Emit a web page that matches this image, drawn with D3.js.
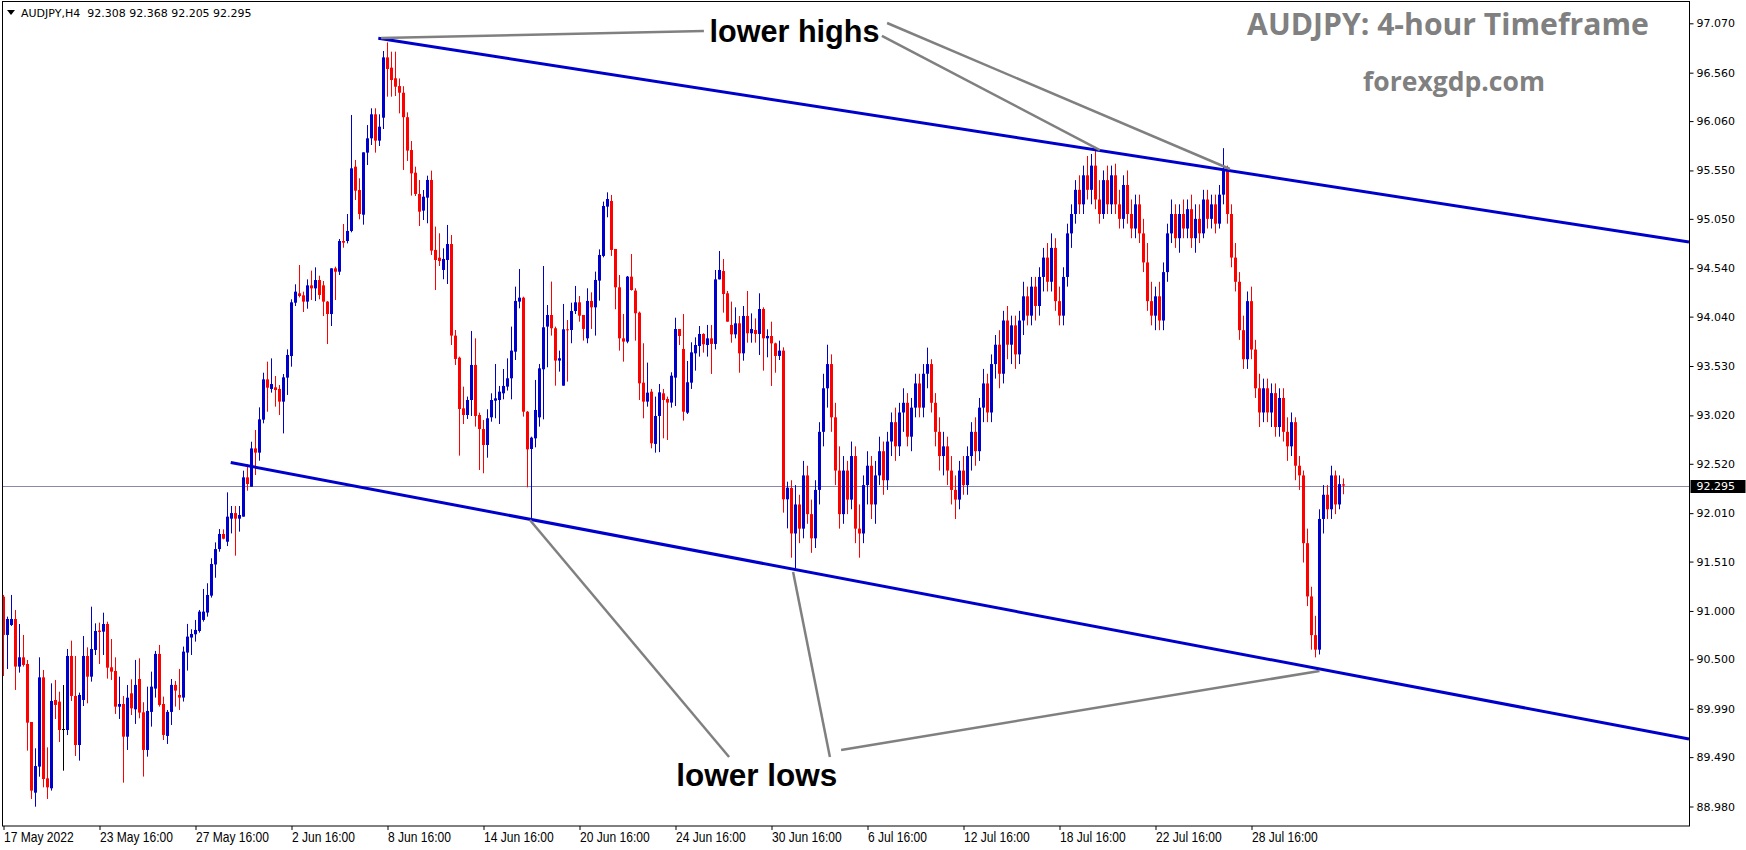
<!DOCTYPE html>
<html><head><meta charset="utf-8">
<script src="https://cdn.jsdelivr.net/npm/d3@7/dist/d3.min.js"></script>
<style>body{margin:0;background:#fff;}svg{display:block;}</style>
</head><body>
<svg id="chart" width="1746" height="850"></svg>
<script>
// ---------- data ----------
const symbolHeader = "AUDJPY,H4";
const headerValues = ["92.308", "92.368", "92.205", "92.295"];
const chartTitle = "AUDJPY: 4-hour Timeframe";
const chartSource = "forexgdp.com";
const priceTicks = [97.070, 96.560, 96.060, 95.550, 95.050, 94.540, 94.040, 93.530, 93.020,
  92.520, 92.010, 91.510, 91.000, 90.500, 89.990, 89.490, 88.980];
const timeLabels = ["17 May 2022", "23 May 16:00", "27 May 16:00", "2 Jun 16:00", "8 Jun 16:00",
  "14 Jun 16:00", "20 Jun 16:00", "24 Jun 16:00", "30 Jun 16:00", "6 Jul 16:00",
  "12 Jul 16:00", "18 Jul 16:00", "22 Jul 16:00", "28 Jul 16:00"];
const timeLabelBars = [0, 24, 48, 72, 96, 120, 144, 168, 192, 216, 240, 264, 288, 312];
const currentPrice = 92.295;
// H4 candles: [open, high, low, close]
const candles = [
[91.147,91.165,90.328,90.752],[90.752,90.941,90.400,90.917],[90.855,91.165,90.845,90.917],[90.917,91.010,90.184,90.425],
[90.425,90.865,90.363,90.521],[90.521,90.752,90.425,90.442],[90.452,90.493,89.557,89.846],[89.853,89.853,89.058,89.144],
[89.123,89.581,88.978,89.398],[89.392,90.521,89.288,90.314],[90.314,90.390,89.178,89.264],[89.271,89.591,89.058,89.178],
[89.168,90.252,89.144,90.070],[90.080,90.287,89.884,90.029],[90.063,90.166,89.646,89.770],[89.777,90.235,89.350,89.777],
[89.770,90.607,89.718,90.535],[90.535,90.693,90.070,90.122],[90.122,90.535,89.502,89.615],[89.615,90.156,89.454,90.132],
[90.080,90.741,90.018,90.535],[90.535,90.624,90.046,90.321],[90.321,91.044,90.270,90.607],[90.597,90.872,90.545,90.793],
[90.797,90.879,90.452,90.783],[90.786,90.982,90.545,90.865],[90.865,90.889,90.301,90.414],[90.418,90.710,90.287,90.373],
[90.380,90.521,89.936,90.011],[90.011,90.321,89.884,90.039],[90.039,90.122,89.226,89.701],[89.701,90.235,89.564,90.104],
[90.149,90.294,89.925,89.994],[89.984,90.494,89.833,90.236],[90.297,90.511,89.891,89.950],[89.953,90.057,89.289,89.564],
[89.564,90.218,89.495,89.967],[89.957,90.373,89.805,90.218],[90.198,90.587,90.105,90.556],[90.556,90.649,90.012,90.029],
[90.039,90.115,89.667,89.719],[89.709,89.977,89.626,89.957],[89.957,90.297,89.822,90.236],[90.236,90.277,90.012,90.177],
[90.132,90.401,89.977,90.105],[90.105,90.632,90.064,90.580],[90.570,90.866,90.384,90.735],[90.725,90.811,90.545,90.762],
[90.759,90.907,90.683,90.804],[90.793,91.010,90.776,90.993],[90.907,91.227,90.890,90.993],[90.983,91.286,90.941,91.165],
[91.158,91.544,91.138,91.485],[91.480,91.708,91.343,91.639],[91.639,91.846,91.612,91.795],[91.795,91.843,91.740,91.746],
[91.715,92.225,91.670,91.974],[91.953,92.084,91.801,92.011],[92.011,92.084,91.571,91.953],[91.953,92.084,91.819,91.991],
[91.974,92.449,91.974,92.380],[92.380,92.514,92.242,92.311],[92.283,92.748,92.283,92.679],[92.679,92.869,92.404,92.635],
[92.635,93.103,92.552,92.979],[92.976,93.461,92.938,93.392],[93.392,93.575,93.058,93.306],[93.293,93.609,93.255,93.344],
[93.310,93.427,93.110,93.282],[93.293,93.334,93.024,93.162],[93.162,93.447,92.834,93.413],[93.410,93.702,93.231,93.644],
[93.633,94.219,93.523,94.188],[94.184,94.374,94.150,94.298],[94.281,94.573,94.239,94.253],[94.260,94.298,94.088,94.195],
[94.195,94.425,94.122,94.363],[94.363,94.515,94.212,94.332],[94.332,94.549,94.201,94.418],[94.418,94.463,94.219,94.264],
[94.363,94.408,94.046,94.195],[94.195,94.201,93.757,94.067],[94.067,94.539,93.943,94.539],[94.539,94.556,94.212,94.504],
[94.504,94.842,94.470,94.821],[94.821,94.997,94.752,94.804],[94.821,95.100,94.797,94.925],[94.925,96.123,94.911,95.572],
[95.589,95.658,95.245,95.341],[95.348,95.469,95.045,95.100],[95.093,95.737,94.990,95.737],[95.734,96.019,95.606,95.882],
[95.882,96.192,95.813,96.130],[96.130,96.192,95.734,95.858],[95.858,96.130,95.803,96.002],[96.095,96.784,95.978,96.718],
[96.718,96.873,96.312,96.598],[96.612,96.777,96.312,96.484],[96.502,96.777,96.319,96.415],[96.422,96.500,96.140,96.353],
[96.353,96.420,95.555,96.100],[96.100,96.150,95.648,95.755],[95.761,95.854,95.290,95.520],[95.527,95.589,95.286,95.307],
[95.307,95.451,94.976,95.124],[95.135,95.348,95.038,95.279],[95.269,95.496,95.004,95.452],[95.452,95.548,94.677,94.722],
[94.729,94.970,94.315,94.625],[94.649,94.901,94.563,94.615],[94.522,94.746,94.426,94.636],[94.625,94.987,94.377,94.790],
[94.790,94.883,93.747,93.844],[93.844,93.902,93.541,93.603],[93.616,93.627,92.604,93.086],[93.093,93.317,92.931,93.024],
[93.024,93.214,92.983,93.179],[93.179,93.892,93.014,93.541],[93.541,93.816,92.904,93.014],[93.024,93.048,92.456,92.879],
[92.879,92.972,92.422,92.714],[92.714,93.083,92.583,92.990],[93.000,93.248,92.955,93.179],[93.172,93.551,92.990,93.196],
[93.179,93.324,92.931,93.265],[93.248,93.499,93.186,93.324],[93.317,93.609,93.276,93.403],[93.403,93.937,93.186,93.689],
[93.678,94.350,93.592,94.202],[94.195,94.532,94.126,94.236],[94.236,94.246,93.007,93.058],[93.058,93.065,92.277,92.669],
[92.673,92.800,91.945,92.790],[92.783,93.386,92.690,93.076],[93.000,93.551,92.904,93.506],[93.496,94.563,92.979,93.930],
[93.937,94.160,93.517,94.057],[94.057,94.402,93.844,93.920],[93.920,93.937,93.327,93.586],[93.586,93.689,93.472,93.610],
[93.327,94.171,93.327,93.909],[93.909,94.005,93.369,93.902],[93.902,94.184,93.765,94.098],[94.098,94.357,94.067,94.188],
[94.188,94.253,93.988,94.050],[94.057,94.057,93.792,93.913],[93.816,94.333,93.765,94.202],[94.202,94.291,93.913,94.136],
[94.136,94.505,93.844,94.419],[94.412,94.735,94.205,94.677],[94.667,95.228,94.653,95.183],[95.176,95.324,95.066,95.255],
[95.235,95.297,94.667,94.729],[94.739,94.739,94.116,94.343],[94.343,94.470,93.689,93.816],[93.816,94.068,93.575,93.782],
[93.782,94.460,93.765,94.453],[94.453,94.687,94.309,94.315],[94.309,94.333,93.792,94.075],[94.081,94.092,93.179,93.351],
[93.358,93.765,92.990,93.162],[93.162,93.565,93.110,93.255],[93.265,93.293,92.680,92.732],[92.725,93.214,92.635,93.014],
[93.014,93.344,92.640,93.258],[93.248,93.293,92.783,93.179],[93.189,93.214,92.766,93.152],[93.152,93.465,93.100,93.430],
[93.410,94.029,93.117,93.912],[93.912,93.912,93.747,93.840],[93.706,94.067,92.966,93.058],[93.048,93.582,93.034,93.362],
[93.358,93.775,93.293,93.671],[93.661,93.826,93.482,93.747],[93.737,93.943,93.627,93.861],[93.861,93.868,93.668,93.754],
[93.747,93.954,93.627,93.816],[93.816,93.954,93.448,93.758],[93.758,94.522,93.702,94.425],[94.425,94.718,94.425,94.522],
[94.511,94.635,94.081,94.274],[94.281,94.305,93.988,93.988],[93.954,94.195,93.771,93.857],[93.857,94.136,93.816,93.971],
[93.971,94.047,93.461,93.661],[93.661,94.150,93.585,94.047],[94.047,94.305,93.771,93.868],[93.868,94.074,93.771,93.912],
[93.902,94.022,93.771,93.861],[93.861,94.281,93.644,94.119],[94.119,94.136,93.482,93.816],[93.816,93.909,93.620,93.840],
[93.840,93.988,93.324,93.764],[93.764,93.771,93.461,93.634],[93.634,93.792,93.592,93.689],[93.689,93.723,92.015,92.153],
[92.153,92.335,91.853,92.273],[92.270,92.350,91.550,91.800],[91.800,92.300,91.440,92.100],[92.100,92.200,91.700,91.850],
[91.850,92.550,91.750,92.400],[92.400,92.500,91.900,92.000],[92.000,92.150,91.600,91.750],[91.750,92.350,91.650,92.250],
[92.250,92.950,92.100,92.850],[92.850,93.450,92.700,93.300],[93.300,93.750,93.100,93.550],[93.550,93.650,92.850,93.000],
[93.000,93.150,92.300,92.450],[92.450,92.700,91.850,92.000],[92.000,92.600,91.900,92.450],[92.450,92.550,92.000,92.150],
[92.150,92.750,92.050,92.600],[92.600,92.700,91.700,91.850],[91.850,92.100,91.550,91.800],[91.800,92.400,91.700,92.300],
[92.300,92.650,92.100,92.500],[92.500,92.600,91.950,92.100],[92.100,92.550,91.900,92.400],[92.400,92.800,92.300,92.650],
[92.650,92.750,92.200,92.350],[92.350,92.850,92.250,92.750],[92.750,93.050,92.600,92.950],[92.950,93.100,92.550,92.700],
[92.700,93.150,92.600,93.050],[93.050,93.300,92.850,93.150],[93.150,93.250,92.700,92.800],[92.800,93.200,92.650,93.100],
[93.100,93.450,93.000,93.350],[93.350,93.450,93.000,93.100],[93.100,93.550,93.000,93.450],[93.450,93.720,93.300,93.550],
[93.550,93.600,93.050,93.150],[93.150,93.250,92.700,92.850],[92.850,93.000,92.450,92.600],[92.600,92.850,92.400,92.700],
[92.700,92.800,92.300,92.450],[92.450,92.600,92.100,92.250],[92.250,92.400,91.950,92.150],[92.150,92.550,92.050,92.450],
[92.450,92.600,92.200,92.300],[92.300,92.700,92.200,92.600],[92.600,92.950,92.450,92.850],[92.850,93.000,92.500,92.650],
[92.650,93.200,92.550,93.100],[93.100,93.500,92.950,93.350],[93.350,93.450,92.950,93.050],[93.050,93.650,92.950,93.550],
[93.550,93.850,93.400,93.750],[93.750,93.900,93.300,93.450],[93.450,94.100,93.350,94.000],[94.000,94.150,93.600,93.750],
[93.750,94.050,93.550,93.950],[93.950,94.050,93.500,93.650],[93.650,94.100,93.550,94.000],[94.000,94.400,93.850,94.250],
[94.250,94.350,93.950,94.050],[94.050,94.450,93.950,94.350],[94.350,94.450,94.000,94.150],[94.150,94.550,94.050,94.450],
[94.450,94.750,94.300,94.650],[94.650,94.800,94.300,94.400],[94.400,94.900,94.300,94.750],[94.750,94.850,94.100,94.200],
[94.200,94.350,93.950,94.050],[94.050,94.550,93.950,94.450],[94.450,95.000,94.350,94.900],[94.900,95.200,94.750,95.100],
[95.100,95.450,95.000,95.350],[95.350,95.500,95.100,95.200],[95.200,95.600,95.100,95.500],[95.500,95.700,95.250,95.350],
[95.350,95.720,95.200,95.600],[95.600,95.750,95.150,95.250],[95.250,95.450,95.000,95.100],[95.100,95.550,95.050,95.450],
[95.450,95.600,95.100,95.200],[95.200,95.600,95.100,95.500],[95.500,95.620,95.100,95.200],[95.200,95.350,94.950,95.050],
[95.050,95.500,94.950,95.400],[95.400,95.550,95.000,95.100],[95.100,95.250,94.850,94.950],[94.950,95.300,94.850,95.200],
[95.200,95.300,94.800,94.900],[94.900,95.050,94.500,94.600],[94.600,94.800,94.100,94.200],[94.200,94.400,93.950,94.050],
[94.050,94.350,93.900,94.250],[94.250,94.400,93.900,94.000],[94.000,94.600,93.900,94.500],[94.500,95.000,94.400,94.900],
[94.900,95.250,94.800,95.100],[95.100,95.200,94.750,94.850],[94.850,95.200,94.700,95.100],[95.100,95.250,94.850,94.950],
[94.950,95.250,94.850,95.150],[95.150,95.300,94.750,94.850],[94.850,95.200,94.700,95.050],[95.050,95.200,94.800,94.900],
[94.900,95.350,94.850,95.250],[95.250,95.350,94.950,95.050],[95.050,95.300,94.950,95.200],[95.200,95.300,94.900,95.000],
[95.000,95.400,94.950,95.300],[95.300,95.780,95.200,95.550],[95.550,95.600,95.000,95.100],[95.100,95.200,94.550,94.650],
[94.650,94.800,94.300,94.400],[94.400,94.500,93.800,93.900],[93.900,94.050,93.500,93.600],[93.600,94.300,93.500,94.200],
[94.200,94.350,93.600,93.700],[93.700,93.800,93.200,93.300],[93.300,93.450,92.900,93.050],[93.050,93.400,92.950,93.300],
[93.300,93.400,92.950,93.050],[93.050,93.350,92.900,93.250],[93.250,93.350,92.800,92.900],[92.900,93.300,92.800,93.200],
[93.200,93.300,92.750,92.850],[92.850,93.000,92.550,92.700],[92.700,93.050,92.600,92.950],[92.950,93.000,92.350,92.500],
[92.500,92.600,92.250,92.400],[92.400,92.450,91.500,91.700],[91.700,91.850,91.050,91.150],[91.150,91.250,90.600,90.750],
[90.750,90.950,90.520,90.600],[90.600,92.050,90.550,91.950],[91.950,92.300,91.800,92.200],[92.200,92.300,91.950,92.050],
[92.050,92.500,91.950,92.400],[92.400,92.450,92.000,92.100],[92.100,92.400,92.050,92.310],[92.308,92.368,92.205,92.295]
];
// trend lines: [bar index, price] anchor pairs
const upperTrend = [[93.7, 96.915], [421.375, 94.810]];
const lowerTrend = [[56.8, 92.533], [421.375, 89.677]];
// gray pointer lines: [[bar, price], [bar, price]]
const pointerLines = [
  [[94.4, 96.918], [175.1, 96.990]],
  [[220.9, 97.073], [306.6, 95.565]],
  [[219.6, 96.939], [274.1, 95.761]],
  [[131.6, 91.939], [181.4, 89.491]],
  [[197.4, 91.402], [206.6, 89.491]],
  [[209.4, 89.564], [329.0, 90.380]]
];
const notes = [
  {text: "lower highs", bar: 197.75, price: 96.877, width: 170},
  {text: "lower lows", bar: 188.3, price: 89.192, width: 161}
];

// ---------- drawing ----------
const svg = d3.select("#chart");
const W = 1746, H = 850;
const plotL = 2.5, plotT = 1.5, plotR = 1689.5, plotB = 826;
const BLUE = "#0000cd", RED = "#ff0000";

svg.append("rect").attr("width", W).attr("height", H).attr("fill", "#fff");

const x = d3.scaleLinear().domain([0, 335]).range([3.5, 1343.5]);
const y = d3.scaleLinear().domain([88.98, 97.07]).range([806.5, 23.3]);

svg.append("defs").append("clipPath").attr("id", "plotClip")
  .append("rect").attr("x", plotL).attr("y", plotT).attr("width", plotR - plotL).attr("height", plotB - plotT);

const plot = svg.append("g").attr("clip-path", "url(#plotClip)");

// current price line
plot.append("line")
  .attr("x1", plotL).attr("x2", plotR)
  .attr("y1", Math.round(y(currentPrice)) + 0.5).attr("y2", Math.round(y(currentPrice)) + 0.5)
  .attr("stroke", "#8a8aa6").attr("stroke-width", 1);

// candles
const cg = plot.append("g");
candles.forEach((d, i) => {
  const [o, h, l, c] = d;
  const cx = Math.floor(x(i));
  const col = c > o ? BLUE : (c < o ? RED : "#000");
  cg.append("line")
    .attr("x1", cx + 0.5).attr("x2", cx + 0.5)
    .attr("y1", y(h)).attr("y2", y(l))
    .attr("stroke", col).attr("stroke-width", 1);
  const top = y(Math.max(o, c)), bot = y(Math.min(o, c));
  if (c === o) {
    cg.append("line").attr("x1", cx - 1).attr("x2", cx + 2)
      .attr("y1", Math.round(top) + 0.5).attr("y2", Math.round(top) + 0.5)
      .attr("stroke", col).attr("stroke-width", 1);
  } else {
    cg.append("rect")
      .attr("x", cx - 1).attr("width", 3)
      .attr("y", top).attr("height", Math.max(1, bot - top))
      .attr("fill", col);
  }
});

// trend lines
[upperTrend, lowerTrend].forEach(t => {
  plot.append("line")
    .attr("x1", x(t[0][0])).attr("y1", y(t[0][1]))
    .attr("x2", x(t[1][0])).attr("y2", y(t[1][1]))
    .attr("stroke", BLUE).attr("stroke-width", 3);
});

// pointer lines
pointerLines.forEach(p => {
  plot.append("line")
    .attr("x1", x(p[0][0])).attr("y1", y(p[0][1]))
    .attr("x2", x(p[1][0])).attr("y2", y(p[1][1]))
    .attr("stroke", "#808080").attr("stroke-width", 2.5);
});

// notes
notes.forEach(n => {
  const t = plot.append("text")
    .attr("x", x(n.bar)).attr("y", y(n.price))
    .attr("text-anchor", "middle")
    .attr("font-family", "'Liberation Sans', Arial, sans-serif")
    .attr("font-weight", "bold").attr("font-size", 31)
    .attr("fill", "#000").text(n.text);
  const w = t.node().getComputedTextLength();
  t.attr("font-size", 31 * n.width / w);
});

// title & source
function fitText(str, cx, baseline, width, size) {
  const t = svg.append("text").attr("x", cx).attr("y", baseline)
    .attr("text-anchor", "middle")
    .attr("font-family", "'Open Sans', 'Noto Sans', sans-serif")
    .attr("font-weight", "bold").attr("font-size", size)
    .attr("fill", "#808080").text(str);
  const w = t.node().getComputedTextLength();
  t.attr("font-size", size * width / w);
}
fitText(chartTitle, 1448, 35, 402, 30);
fitText(chartSource, 1454, 91, 182, 26);

// frame
svg.append("rect").attr("x", plotL).attr("y", plotT)
  .attr("width", plotR - plotL).attr("height", plotB - plotT)
  .attr("fill", "none").attr("stroke", "#000").attr("stroke-width", 1);

// price axis
const yAxis = svg.append("g").attr("transform", `translate(${plotR},0)`)
  .call(d3.axisRight(y).tickValues(priceTicks).tickFormat(d3.format(".3f")).tickSize(4).tickPadding(3));
yAxis.select(".domain").remove();
yAxis.selectAll("line").attr("stroke", "#000");
yAxis.selectAll("text").attr("font-family", "'DejaVu Sans', Verdana, sans-serif").attr("font-size", 11).attr("fill", "#000");

// current price tag
const cpY = Math.round(y(currentPrice)) + 0.5;
svg.append("rect").attr("x", plotR + 1).attr("y", cpY - 6.5).attr("width", 55).attr("height", 13).attr("fill", "#000");
svg.append("text").attr("x", plotR + 7).attr("y", cpY).attr("dy", "0.34em")
  .attr("font-family", "'DejaVu Sans', Verdana, sans-serif").attr("font-size", 11)
  .attr("fill", "#fff").text(currentPrice.toFixed(3));

// time axis
const xAxis = svg.append("g").attr("transform", `translate(0,${plotB})`)
  .call(d3.axisBottom(x).tickValues(timeLabelBars).tickFormat((d, i) => timeLabels[i]).tickSize(4));
xAxis.select(".domain").remove();
xAxis.selectAll("line").attr("stroke", "#000");
const xt = xAxis.selectAll("text")
  .attr("text-anchor", "start").attr("x", 0).attr("y", 6).attr("dy", "0.71em")
  .attr("font-family", "'Liberation Sans Narrow', 'Arial Narrow', 'Liberation Sans', sans-serif")
  .attr("font-size", 14.5).attr("fill", "#000");
// compress labels horizontally to the narrow look of the original
let refW = 0;
xt.each(function(d, i) { if (i === 1) refW = this.getComputedTextLength(); });
const squeeze = refW > 0 ? Math.min(1, 73 / refW) : 1;
xt.each(function() {
  const w = this.getComputedTextLength();
  d3.select(this).attr("textLength", w * squeeze).attr("lengthAdjust", "spacingAndGlyphs");
});

// header
svg.append("path").attr("d", "M7,10 L15,10 L11,15 Z").attr("fill", "#000");
svg.append("text").attr("x", 21).attr("y", 17)
  .attr("font-family", "'DejaVu Sans', Verdana, sans-serif").attr("font-size", 11)
  .attr("fill", "#000").attr("xml:space", "preserve")
  .text(symbolHeader + "  " + headerValues.join(" "));
</script>
</body></html>
